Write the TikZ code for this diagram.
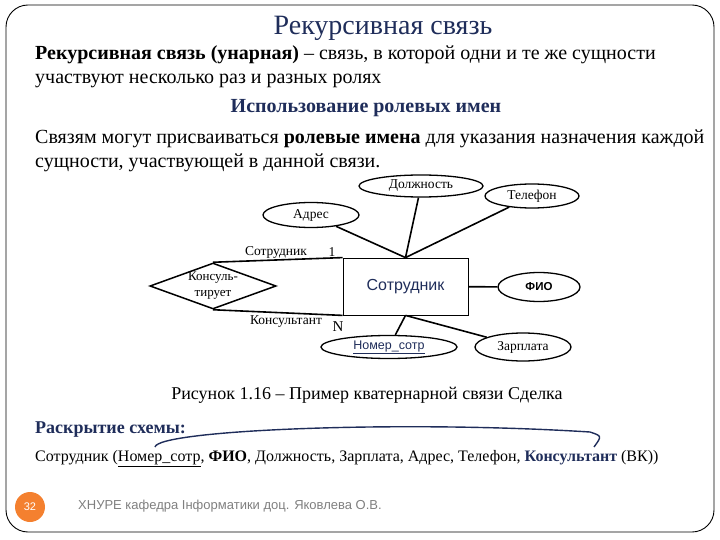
\documentclass[tikz,border=0pt]{standalone}
\usepackage{fontspec}
\setmainfont{Liberation Serif}
\setsansfont{Liberation Sans}
\usetikzlibrary{shapes.geometric}
\definecolor{navy}{HTML}{1F2D5A}
\definecolor{footorange}{HTML}{F4802F}
\definecolor{footgray}{HTML}{7F7F7F}
\begin{document}
\begin{tikzpicture}[x=1pt,y=-1pt,
  txt/.style={inner sep=0pt,anchor=base west},
  attr/.style={draw,ellipse,line width=1.3pt,inner sep=0pt,font=\fontsize{13.5}{13.5}\selectfont},
  conn/.style={line width=1.6pt},
  role/.style={inner sep=0pt,font=\fontsize{13.5}{13.5}\selectfont}]
\useasboundingbox (0,0) rectangle (720,540);
\draw[line width=0.9pt,rounded corners=22pt] (6,5) rectangle (714,532);
% title and texts
\node[txt,anchor=base] (title) at (383,35) {\fontsize{28}{30}\selectfont\color{navy}Рекурсивная связь};
\node[txt] (l1) at (35,60) {\fontsize{20}{22}\selectfont\textbf{Рекурсивная связь (унарная)} – связь, в которой одни и те же сущности};
\node[txt] (l2) at (35,84) {\fontsize{20}{22}\selectfont участвуют несколько раз и разных ролях};
\node[txt,anchor=base] (l3) at (366,113) {\fontsize{20}{22}\selectfont\color{navy}\textbf{Использование ролевых имен}};
\node[txt] (l4) at (35,144) {\fontsize{20}{22}\selectfont Связям могут присваиваться \textbf{ролевые имена} для указания назначения каждой};
\node[txt] (l5) at (35,168) {\fontsize{20}{22}\selectfont сущности, участвующей в данной связи.};
% diagram
\node[draw,line width=0.8pt,minimum width=125pt,minimum height=57pt,inner sep=0pt,
  font=\sffamily\fontsize{16}{16}\selectfont,text=navy] (emp) at (405.5,286.5) {Сотрудник};
\node[draw,diamond,line width=1.5pt,minimum width=123pt,minimum height=46pt,aspect=2.8,inner sep=0pt,
  align=center,font=\fontsize{13}{16}\selectfont] (rel) at (213,286) {Консуль-\\тирует};
\node[attr,minimum width=124pt,minimum height=22pt] (dol) at (421,186) {Должность};
\node[attr,minimum width=94pt,minimum height=24pt] (tel) at (532,196) {Телефон};
\node[attr,minimum width=96pt,minimum height=25pt] (adr) at (311,215) {Адрес};
\node[attr,minimum width=82pt,minimum height=29pt,font=\sffamily\bfseries\fontsize{11.5}{11.5}\selectfont] (fio) at (539,287) {ФИО};
\node[attr,minimum width=136pt,minimum height=23pt,font=\sffamily\fontsize{12.5}{12.5}\selectfont,text=navy] (nom) at (389,347) {\underline{Номер\_сотр}};
\node[attr,minimum width=96pt,minimum height=28pt] (zar) at (523,347) {Зарплата};
\draw[conn] (adr) -- (emp.north);
\draw[conn] (dol) -- (emp.north);
\draw[conn] (tel) -- (emp.north);
\draw[conn] (emp) -- (fio);
\draw[conn] (emp.south) -- (nom);
\draw[conn] (emp.south) -- (zar);
\draw[conn] (rel.north) -- (emp.north west);
\draw[conn] (rel.south) -- (emp.south west);
\node[role] (r1) at (276,252) {Сотрудник};
\node[role] (r1n) at (332,252) {1};
\node[role] (r2) at (286,322) {Консультант};
\node[role,font=\fontsize{15}{15}\selectfont] (r2n) at (338,327) {N};
% caption and schema
\node[txt,anchor=base] (cap) at (367,399) {\fontsize{18}{20}\selectfont Рисунок 1.16 – Пример кватернарной связи Сделка};
\node[txt] (rs) at (35,433) {\fontsize{18}{20}\selectfont\color{navy}\textbf{Раскрытие схемы:}};
\node[txt] (sch) at (35,461) {\fontsize{16}{18}\selectfont Сотрудник (\underline{Номер\_сотр}, \textbf{ФИО}, Должность, Зарплата, Адрес, Телефон, \textbf{\color{navy}Консультант} (ВК))};
\coordinate (arcL) at (155,447);
\coordinate (arcR) at (594,447);
\draw[line width=1.4pt,navy] (arcL) .. controls (158,430) and (400,420) .. (590,432) .. controls (602,436) .. (arcR);
% footer
\node[circle,fill=footorange,minimum size=30pt,inner sep=0pt,text=white,font=\sffamily\fontsize{11}{11}\selectfont] (pg) at (30,507) {32};
\node[txt,text=footgray,font=\sffamily\fontsize{13}{13}\selectfont] (foot) at (78,509) {ХНУРЕ кафедра Інформатики доц. Яковлева О.В.};
\end{tikzpicture}
\end{document}
